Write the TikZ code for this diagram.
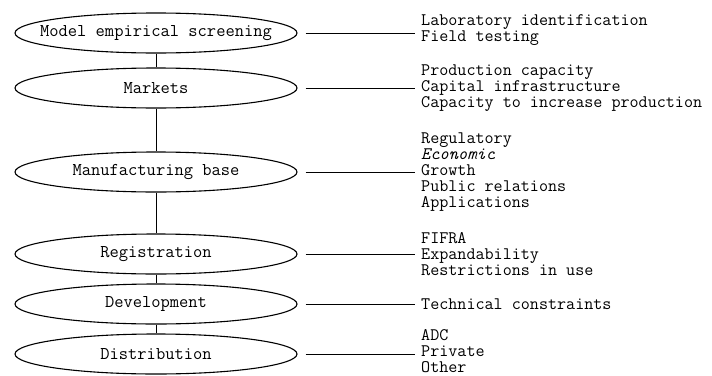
\documentclass[tikz,border=0pt]{standalone}
\usepackage{fontspec}
\usetikzlibrary{shapes.geometric}

\newcommand{\stagetext}[1]{\makebox[0pt]{#1}}

\tikzset{
  stage/.style={ellipse, draw, line width=1.1pt, minimum width=282pt, minimum height=40pt,
    inner sep=0pt, font=\ttfamily\fontsize{18}{16}\selectfont},
  items/.style={anchor=west, align=left, inner xsep=6pt, inner ysep=0pt,
    font=\ttfamily\fontsize{17.6}{16}\selectfont},
  link/.style={line width=1pt}
}

\begin{document}
\begin{tikzpicture}[x=1pt, y=-1pt]
                \useasboundingbox (0, 0) rectangle (712, 375);

                \node[stage] (screen) at (156, 33) {\stagetext{Model empirical screening}};
                \node[stage] (markets) at (156, 88) {\stagetext{Markets}};
                \node[stage] (manuf) at (156, 172) {\stagetext{Manufacturing base}};
                \node[stage] (regist) at (156, 254) {\stagetext{Registration}};
                \node[stage] (develop) at (156, 304) {\stagetext{Development}};
                \node[stage] (distrib) at (156, 354) {\stagetext{Distribution}};

                \node[items] (screenitems) at (415, 30) {Laboratory identification\\Field testing};
                \node[items] (marketitems) at (415, 88) {Production capacity\\Capital infrastructure\\Capacity to increase production};
                \node[items] (manufitems) at (415, 172) {Regulatory\\\textit{Economic}\\Growth\\Public relations\\Applications};
                \node[items] (registitems) at (415, 254) {FIFRA\\Expandability\\Restrictions in use};
                \node[items] (developitems) at (415, 304) {Technical constraints};
                \node[items] (distribitems) at (415, 351) {ADC\\Private\\Other};

                \draw[link] (screen) -- (markets);
                \draw[link] (markets) -- (manuf);
                \draw[link] (manuf) -- (regist);
                \draw[link] (regist) -- (develop);
                \draw[link] (develop) -- (distrib);

                \draw[link, shorten <=8pt] (screen.east) -- (screen.east -| screenitems.west);
                \draw[link, shorten <=8pt] (markets.east) -- (marketitems.west);
                \draw[link, shorten <=8pt] (manuf.east) -- (manufitems.west);
                \draw[link, shorten <=8pt] (regist.east) -- (registitems.west);
                \draw[link, shorten <=8pt] (develop.east) -- (developitems.west);
                \draw[link, shorten <=8pt] (distrib.east) -- (distrib.east -| distribitems.west);
\end{tikzpicture}
\end{document}
